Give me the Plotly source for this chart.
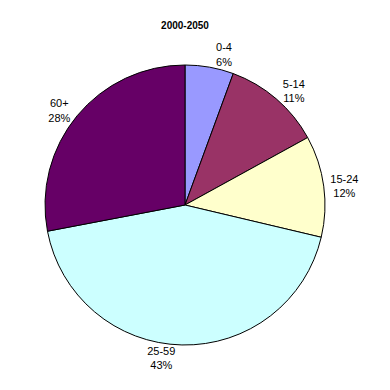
import plotly.graph_objects as go

labels = ["0-4", "5-14", "15-24", "25-59", "60+"]
values = [5.6, 11.4, 11.7, 43.3, 28.0]
colors = ["#9999FF", "#993366", "#FFFFCC", "#CCFFFF", "#660066"]

fig = go.Figure(go.Pie(
    labels=labels,
    values=values,
    sort=False,
    direction="clockwise",
    rotation=0,
    marker=dict(colors=colors, line=dict(color="black", width=1)),
    textposition="outside",
    texttemplate="%{label}<br>%{percent:.0%}",
    textfont=dict(family="Liberation Sans, Arial", size=11, color="black"),
    showlegend=False,
    hoverinfo="label+percent",
))

fig.update_layout(
    width=390, height=390,
    margin=dict(l=45, r=65, t=65, b=45),
    paper_bgcolor="white",
    plot_bgcolor="white",
    title=dict(text="<b>2000-2050</b>", x=185/390, xanchor="center",
               y=1 - 25/390, yanchor="middle", yref="container",
               font=dict(family="Liberation Sans, Arial", size=10, color="black")),
)

fig.write_html("out.html")
